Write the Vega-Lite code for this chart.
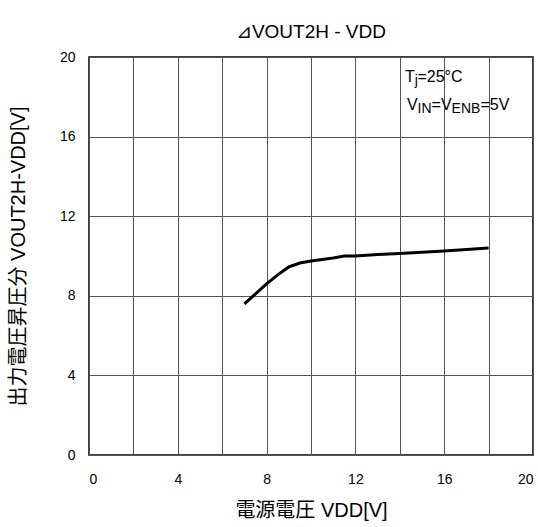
{
  "$schema": "https://vega.github.io/schema/vega-lite/v6.json",
  "autosize": {"type": "none"},
  "width": 444,
  "height": 398,
  "padding": {"left": 89, "top": 57, "right": 5, "bottom": 72},
  "background": "white",
  "config": {
    "font": "Liberation Sans, Noto Sans CJK JP, sans-serif",
    "view": {"stroke": "black", "strokeWidth": 1.5},
    "axis": {"labelFont": "Liberation Sans", "labelFontSize": 14, "labelColor": "black", "titleColor": "black", "titleFontWeight": "normal", "titleFont": "Liberation Sans, Noto Sans CJK JP", "gridColor": "#555555", "gridOpacity": 1, "gridWidth": 1, "ticks": false, "domain": false}
  },
  "title": {"text": "⊿VOUT2H - VDD", "fontSize": 19, "fontWeight": "normal", "font": "Liberation Sans, DejaVu Sans", "color": "black", "offset": 8},
  "layer": [
    {
      "data": {"values": [
        {"vdd": 7.0, "dv": 7.6},
        {"vdd": 7.5, "dv": 8.1},
        {"vdd": 8.0, "dv": 8.6},
        {"vdd": 8.5, "dv": 9.05},
        {"vdd": 9.0, "dv": 9.45},
        {"vdd": 9.5, "dv": 9.65},
        {"vdd": 10.0, "dv": 9.75},
        {"vdd": 11.0, "dv": 9.9},
        {"vdd": 11.5, "dv": 10.0},
        {"vdd": 12.0, "dv": 10.0},
        {"vdd": 13.0, "dv": 10.08},
        {"vdd": 14.0, "dv": 10.13},
        {"vdd": 16.0, "dv": 10.25},
        {"vdd": 18.0, "dv": 10.4}
      ]},
      "mark": {"type": "line", "color": "black", "strokeWidth": 3},
      "encoding": {
        "x": {"field": "vdd", "type": "quantitative", "scale": {"domain": [0, 20], "nice": false}, "axis": {"values": [0,2,4,6,8,10,12,14,16,18,20], "labelExpr": "datum.value % 4 == 0 ? datum.label : ''", "labelPadding": 17, "title": "電源電圧 VDD[V]", "titleFontSize": 20, "titlePadding": 14}},
        "y": {"field": "dv", "type": "quantitative", "scale": {"domain": [0, 20], "nice": false}, "axis": {"values": [0,2,4,6,8,10,12,14,16,18,20], "labelExpr": "datum.value % 4 == 0 ? datum.label : ''", "labelPadding": 14, "title": "出力電圧昇圧分 VOUT2H-VDD[V]", "titleFontSize": 20, "titleX": -61}}
      }
    },
    {
      "data": {"values": [{}]},
      "mark": {"type": "text", "align": "left", "baseline": "alphabetic", "font": "Liberation Sans", "fontSize": 16, "fill": "black"},
      "encoding": {"x": {"datum": 14.23}, "y": {"datum": 18.74}, "text": {"value": "T"}}
    },
    {
      "data": {"values": [{}]},
      "mark": {"type": "text", "align": "left", "baseline": "alphabetic", "font": "Liberation Sans", "fontSize": 14, "fill": "black", "dx": 9.8, "dy": 3},
      "encoding": {"x": {"datum": 14.23}, "y": {"datum": 18.74}, "text": {"value": "j"}}
    },
    {
      "data": {"values": [{}]},
      "mark": {"type": "text", "align": "left", "baseline": "alphabetic", "font": "Liberation Sans", "fontSize": 16, "fill": "black", "dx": 12.5},
      "encoding": {"x": {"datum": 14.23}, "y": {"datum": 18.74}, "text": {"value": "=25°C"}}
    },
    {
      "data": {"values": [{}]},
      "mark": {"type": "text", "align": "left", "baseline": "alphabetic", "font": "Liberation Sans", "fontSize": 16, "fill": "black"},
      "encoding": {"x": {"datum": 14.32}, "y": {"datum": 17.34}, "text": {"value": "V"}}
    },
    {
      "data": {"values": [{}]},
      "mark": {"type": "text", "align": "left", "baseline": "alphabetic", "font": "Liberation Sans", "fontSize": 14, "fill": "black", "dx": 10.7, "dy": 3},
      "encoding": {"x": {"datum": 14.32}, "y": {"datum": 17.34}, "text": {"value": "IN"}}
    },
    {
      "data": {"values": [{}]},
      "mark": {"type": "text", "align": "left", "baseline": "alphabetic", "font": "Liberation Sans", "fontSize": 16, "fill": "black", "dx": 24.7},
      "encoding": {"x": {"datum": 14.32}, "y": {"datum": 17.34}, "text": {"value": "=V"}}
    },
    {
      "data": {"values": [{}]},
      "mark": {"type": "text", "align": "left", "baseline": "alphabetic", "font": "Liberation Sans", "fontSize": 14, "fill": "black", "dx": 44.7, "dy": 3},
      "encoding": {"x": {"datum": 14.32}, "y": {"datum": 17.34}, "text": {"value": "ENB"}}
    },
    {
      "data": {"values": [{}]},
      "mark": {"type": "text", "align": "left", "baseline": "alphabetic", "font": "Liberation Sans", "fontSize": 16, "fill": "black", "dx": 73.5},
      "encoding": {"x": {"datum": 14.32}, "y": {"datum": 17.34}, "text": {"value": "=5V"}}
    }
  ]
}
